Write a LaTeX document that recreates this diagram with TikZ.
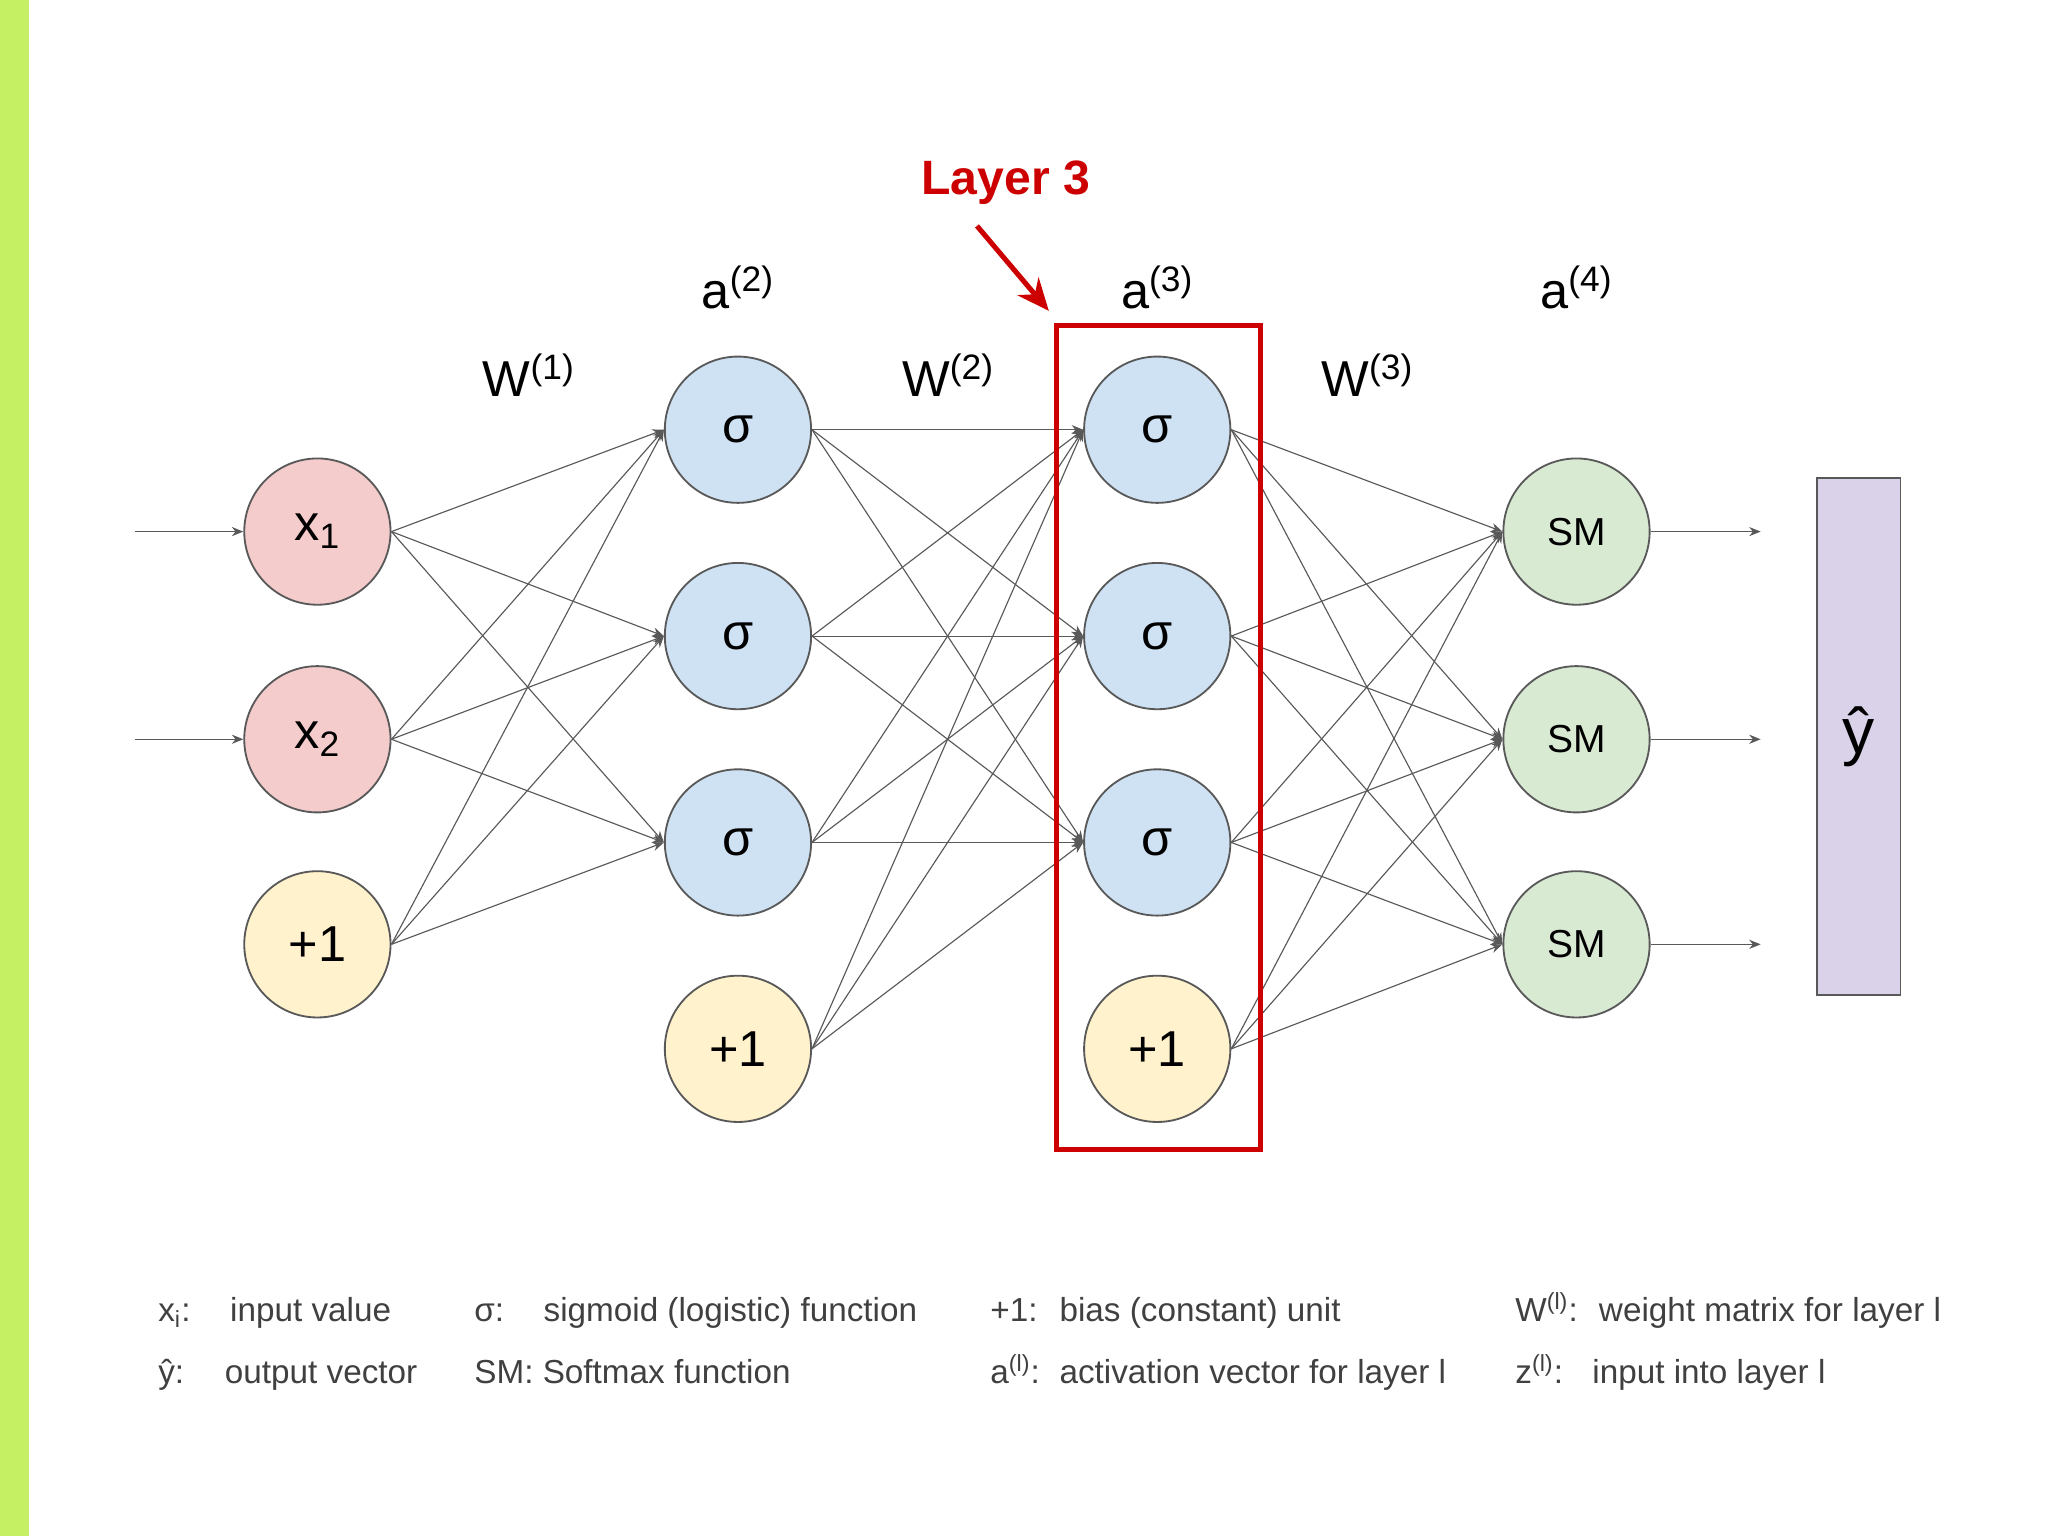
\documentclass[tikz,border=0pt]{standalone}
\usepackage{fontspec}
\setmainfont{Liberation Sans}
\usetikzlibrary{arrows.meta}
\begin{document}
\begin{tikzpicture}[x=0.02cm,y=-0.02cm,
  neu/.style={circle,draw=black!65,line width=0.8pt,minimum size=112*0.02cm,inner sep=0pt,font=\fontsize{22}{24}\selectfont},
  conn/.style={draw=black!65,line width=0.5pt,-{Stealth[length=5pt,width=4pt]}},
  lbl/.style={font=\fontsize{22}{24}\selectfont},
  leg/.style={anchor=base west,font=\fontsize{14.5}{16}\selectfont,text=black!75}]
\useasboundingbox (0,0) rectangle (1568,1176);
\fill[fill={rgb,255:red,198;green,240;blue,100}] (0,0) rectangle (22,1176);
\definecolor{cpink}{HTML}{F4CCCC}\definecolor{cblue}{HTML}{CFE2F3}
\definecolor{cyel}{HTML}{FFF2CC}\definecolor{cgreen}{HTML}{D9EAD3}
\definecolor{cpur}{HTML}{D9D2E9}\definecolor{cred}{HTML}{CC0000}
\node[neu,fill=cpink] (x1) at (243,407) {x\textsubscript{1}};
\node[neu,fill=cpink] (x2) at (243,566) {x\textsubscript{2}};
\node[neu,fill=cyel] (b1) at (243,723) {+1};
\foreach \i/\y in {1/329,2/487,3/645}{
  \node[neu,fill=cblue] (h\i) at (565,\y) {σ};
  \node[neu,fill=cblue] (g\i) at (886,\y) {σ};}
\node[neu,fill=cyel] (h4) at (565,803) {+1};
\node[neu,fill=cyel] (g4) at (886,803) {+1};
\foreach \i/\y in {1/407,2/566,3/723}
  \node[neu,fill=cgreen,font=\fontsize{17}{19}\selectfont] (s\i) at (1207,\y) {SM};
\foreach \a in {x1,x2,b1}\foreach \j in {1,2,3}\draw[conn] (\a.east) -- (h\j.west);
\foreach \a in {1,2,3,4}\foreach \j in {1,2,3}\draw[conn] (h\a.east) -- (g\j.west);
\foreach \a in {1,2,3,4}\foreach \j in {1,2,3}\draw[conn] (g\a.east) -- (s\j.west);
\coordinate (i1) at (103,407); \coordinate (i2) at (103,566);
\draw[conn] (i1) -- (x1.west); \draw[conn] (i2) -- (x2.west);
\foreach \i/\y in {1/407,2/566,3/723}{\coordinate (o\i) at (1348,\y); \draw[conn] (s\i.east) -- (o\i);}
\node[draw=black!65,line width=0.8pt,fill=cpur,minimum width=64*0.02cm,minimum height=396*0.02cm,inner sep=0pt,font=\fontsize{28}{30}\selectfont] (yh) at (1423,564) {ŷ};
\node[draw=cred,line width=2.2pt,minimum width=156*0.02cm,minimum height=631*0.02cm,inner sep=0pt] (box) at (887,564.5) {};
\node[text=cred,font=\bfseries\fontsize{21}{24}\selectfont] (L3) at (770,140) {Layer 3};
\coordinate (L3a) at (748,173);
\draw[cred,line width=2.2pt,-{Stealth[length=14pt,width=12pt]}] (L3a) -- (803,238);
\node[lbl] (a2) at (565,220) {a\textsuperscript{(2)}};
\node[lbl] (a3) at (886,220) {a\textsuperscript{(3)}};
\node[lbl] (a4) at (1207,220) {a\textsuperscript{(4)}};
\node[lbl] (w1) at (405,287) {W\textsuperscript{(1)}};
\node[lbl] (w2) at (726,287) {W\textsuperscript{(2)}};
\node[lbl] (w3) at (1047,287) {W\textsuperscript{(3)}};
\node[leg] at (115,1012) {x\textsubscript{i}:};
\node[leg] at (170,1012) {input value};
\node[leg] at (357,1012) {σ:};
\node[leg] at (410,1012) {sigmoid (logistic) function};
\node[leg] at (752,1012) {+1:};
\node[leg] at (805,1012) {bias (constant) unit};
\node[leg] at (1154,1012) {W\textsuperscript{(l)}:};
\node[leg] at (1218,1012) {weight matrix for layer l};
\node[leg] at (115,1059) {ŷ:};
\node[leg] at (166,1059) {output vector};
\node[leg] at (357,1059) {SM: Softmax function};
\node[leg] at (752,1059) {a\textsuperscript{(l)}:};
\node[leg] at (805,1059) {activation vector for layer l};
\node[leg] at (1154,1059) {z\textsuperscript{(l)}:};
\node[leg] at (1213,1059) {input into layer l};
\end{tikzpicture}
\end{document}
